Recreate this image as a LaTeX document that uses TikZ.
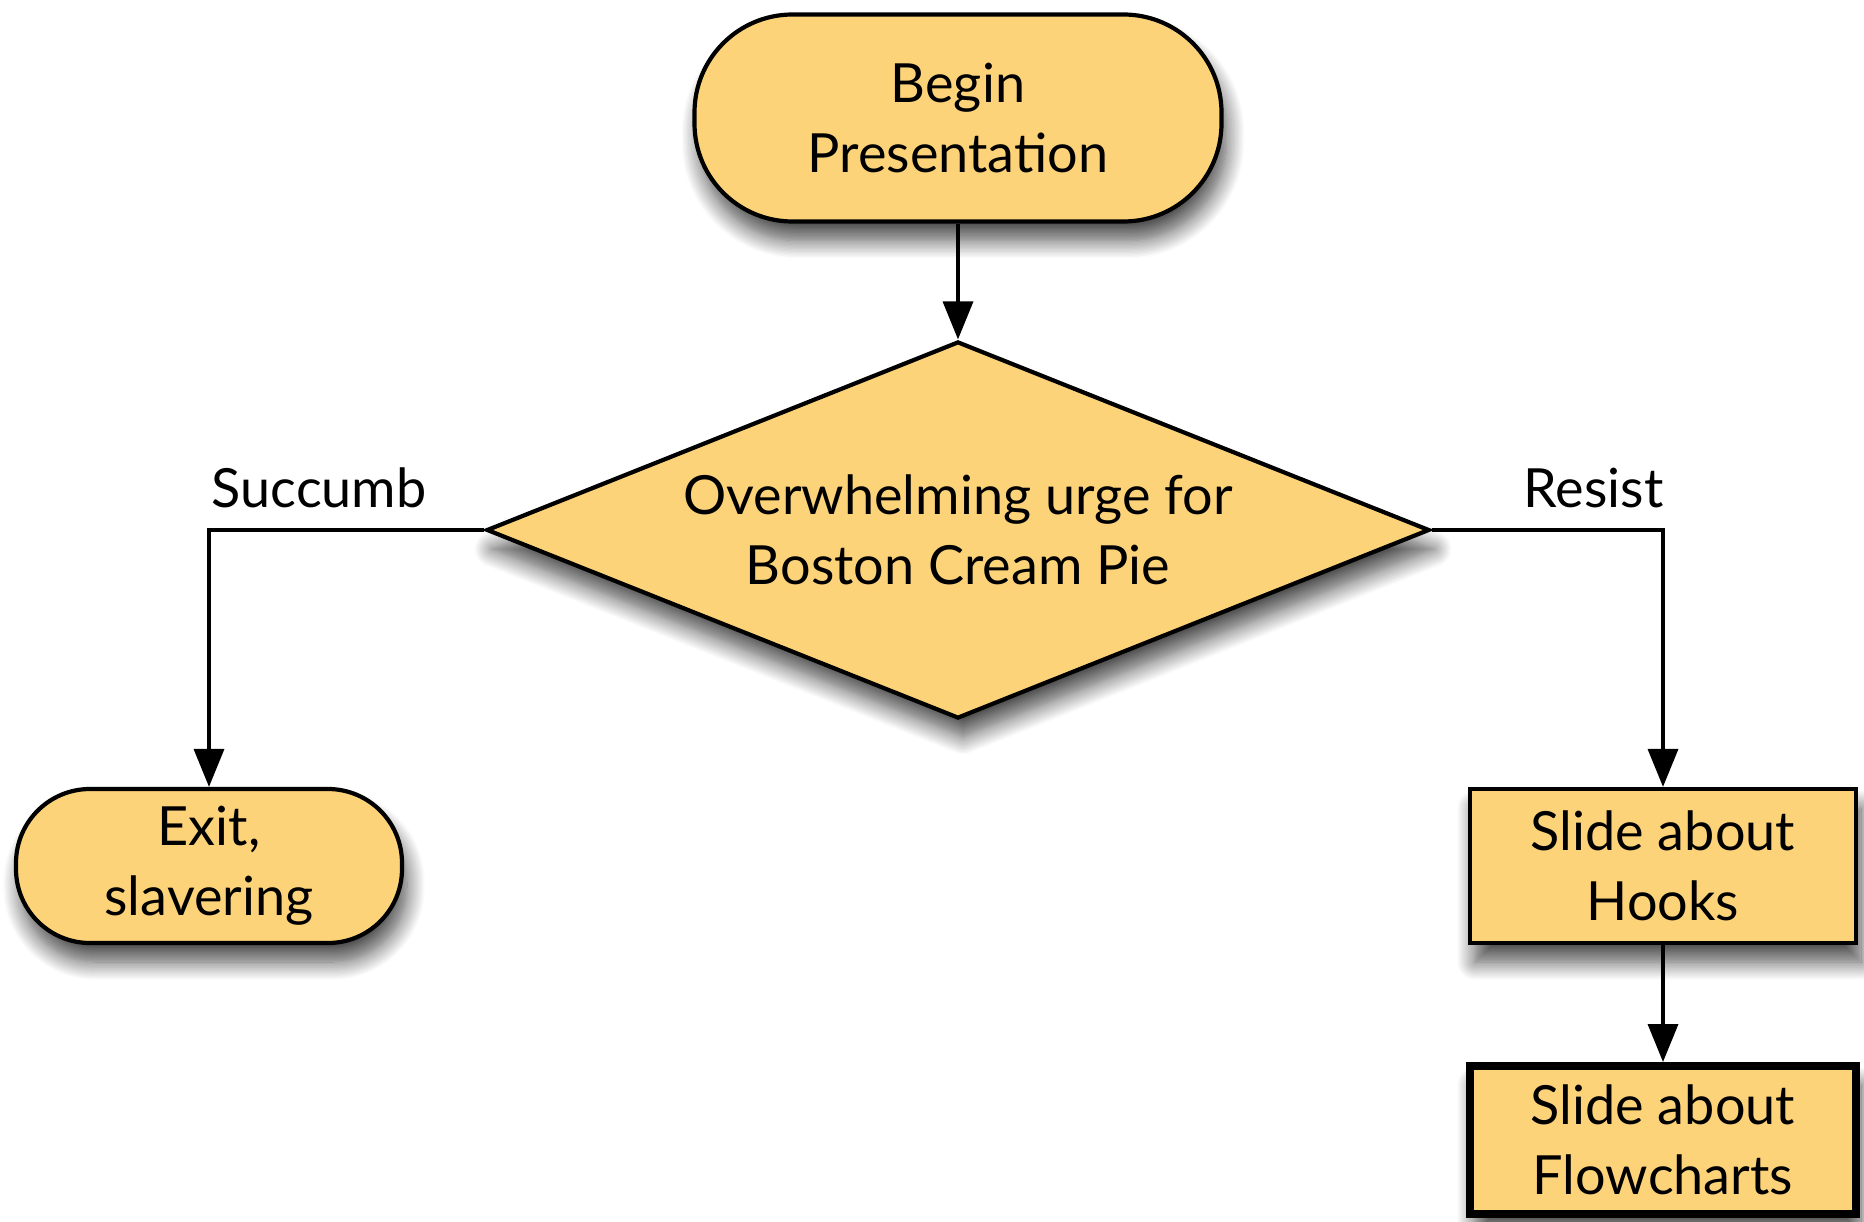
\documentclass[tikz,border=0pt]{standalone}
\usepackage{fontspec}
\setmainfont{Lato}
\usetikzlibrary{arrows.meta,shapes.geometric,shadows.blur}

\definecolor{pieyellow}{RGB}{253,211,122}
\newcommand{\chartfont}{\fontsize{54}{70}\selectfont}

\tikzset{
  boxbase/.style={draw, line width=4.2pt, fill=pieyellow, align=center,
    font=\chartfont, inner sep=0pt,
    blur shadow={shadow xshift=5pt, shadow yshift=-19pt,
      shadow blur radius=18pt, shadow blur steps=14, shadow opacity=70}},
  terminal/.style={boxbase, rectangle, rounded corners=#1},
  process/.style={boxbase, rectangle, minimum width=386pt, minimum height=154pt},
  decision/.style={boxbase, diamond, aspect=2.5},
  flow/.style={line width=3.6pt, -{Triangle[width=30pt,length=38pt]}},
  choicetext/.style={font=\chartfont, inner sep=20pt}
}

\begin{document}
\begin{tikzpicture}[x=1pt, y=-1pt]
  \useasboundingbox (0,0) rectangle (1864,1222);

  % Start
  \node[terminal=98pt, minimum width=527pt, minimum height=207pt]
    (begin) at (958,118) {Begin\\Presentation};

  % Decision
  \node[decision, minimum width=943pt, minimum height=377pt]
    (urge) at (958,530) {Overwhelming urge for\\Boston Cream Pie};

  % Left branch
  \node[terminal=74pt, minimum width=386pt, minimum height=154pt]
    (exit) at (209,866) {Exit,\\slavering};

  % Right branch
  \node[process] (hooks) at (1663,866) {Slide about\\Hooks};
  \node[process, line width=8pt, minimum height=148pt]
    (flowcharts) at (1663,1140) {Slide about\\Flowcharts};

  %% Lines
  \draw[flow] (begin) -- (urge);
  \draw[flow] (urge.west) -| node[choicetext, above, pos=.3] {Succumb} (exit.north);
  \draw[flow] (urge.east) -| node[choicetext, above, pos=.35] {Resist} (hooks.north);
  \draw[flow] (hooks) -- (flowcharts);
\end{tikzpicture}
\end{document}
